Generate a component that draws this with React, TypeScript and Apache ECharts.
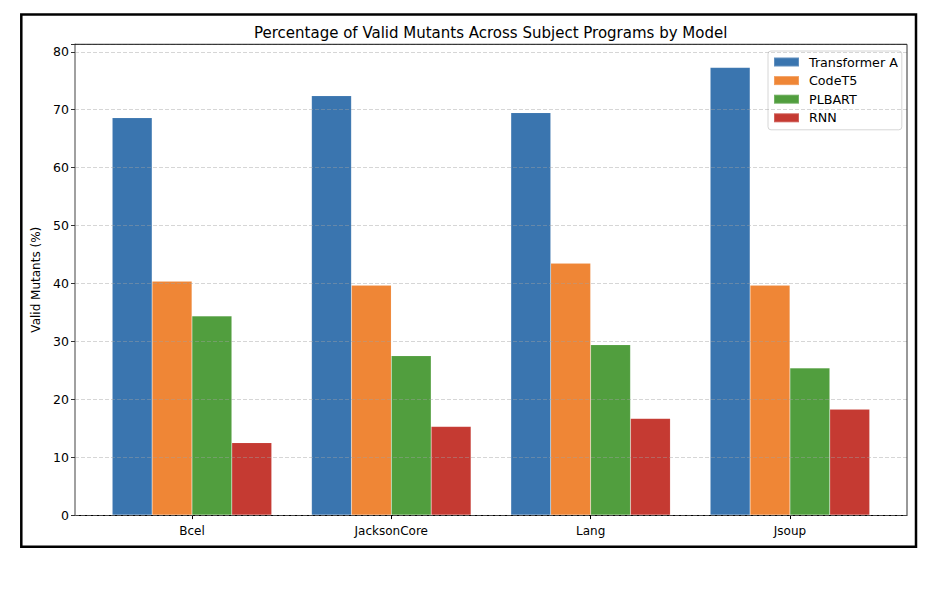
import React, { useEffect, useRef } from "react";
import * as echarts from "echarts";

const categories = ["Bcel", "JacksonCore", "Lang", "Jsoup"];
const seriesNames = ["Transformer A", "CodeT5", "PLBART", "RNN"];
const transformerA = [68.6, 72.4, 69.5, 77.3];
const codeT5 = [40.4, 39.7, 43.5, 39.7];
const plbart = [34.4, 27.5, 29.4, 25.4];
const rnn = [12.5, 15.3, 16.7, 18.3];
const colors = ["#3a75af", "#ef8636", "#519e3e", "#c53a32"];
const yTicks = [0, 10, 20, 30, 40, 50, 60, 70, 80];

const FONT = "DejaVu Sans";

export default function App() {
  const ref = useRef<HTMLDivElement>(null);
  useEffect(() => {
    if (!ref.current) return;
    const chart = echarts.init(ref.current, undefined, { renderer: "svg" });
    const values = [transformerA, codeT5, plbart, rnn];
    const yMax = 81.3;
    const frame = { left: 67, top: 36.3, width: 832, height: 470.8 };
    const catGrid = { left: 84.3, top: 36.3, width: 797.3, height: 470.8 };
    chart.setOption({
      animation: false,
      backgroundColor: "#ffffff",
      title: {
        text: "Percentage of Valid Mutants Across Subject Programs by Model",
        left: 241,
        top: 12,
        textStyle: { fontFamily: FONT, fontSize: 15, fontWeight: "normal", color: "#000" },
      },
      legend: {
        orient: "vertical",
        left: 760,
        top: 43,
        data: seriesNames,
        itemWidth: 25,
        itemHeight: 9,
        itemGap: 4.6,
        padding: [4, 4, 5, 5],
        backgroundColor: "rgba(255,255,255,0.8)",
        borderColor: "#d6d6d6",
        borderWidth: 1,
        borderRadius: 3,
        icon: "rect",
        textStyle: { fontFamily: FONT, fontSize: 12.7, color: "#000", padding: [0, 0, 0, 5], lineHeight: 14 },
      },
      grid: [
        { ...frame, containLabel: false },
        { ...catGrid, containLabel: false },
      ],
      xAxis: [
        {
          type: "value",
          gridIndex: 0,
          min: 0,
          max: 1,
          axisLine: { show: true, onZero: false, lineStyle: { color: "#000", width: 1 } },
          axisTick: { show: false },
          axisLabel: { show: false },
          splitLine: { show: false },
        },
        {
          type: "category",
          gridIndex: 1,
          data: categories,
          axisLine: { show: false },
          axisTick: { show: true, alignWithLabel: true, length: 4, lineStyle: { color: "#000" } },
          axisLabel: { fontFamily: FONT, fontSize: 12, color: "#000", margin: 10 },
          splitLine: { show: false },
        },
      ],
      yAxis: [
        {
          type: "value",
          gridIndex: 0,
          min: 0,
          max: yMax,
          interval: 10,
          z: 5,
          name: "Valid Mutants (%)",
          nameLocation: "middle",
          nameGap: 30,
          nameTextStyle: { fontFamily: FONT, fontSize: 12, color: "#000" },
          axisLine: { show: true, lineStyle: { color: "#808080", width: 1.5 } },
          axisTick: { show: true, length: 4, lineStyle: { color: "#333" } },
          axisLabel: {
            fontFamily: FONT,
            fontSize: 12.5,
            color: "#000",
            margin: 6,
            formatter: (v: number) => (yTicks.includes(v) ? String(v) : ""),
          },
          splitLine: { show: true, lineStyle: { color: "rgba(160,160,160,0.55)", type: [4, 2], width: 0.8 } },
        },
        {
          type: "value",
          gridIndex: 1,
          min: 0,
          max: yMax,
          show: false,
          splitLine: { show: false },
        },
      ],
      graphic: [
        {
          type: "line",
          shape: { x1: frame.left, y1: frame.top, x2: frame.left + frame.width, y2: frame.top },
          style: { stroke: "#111", lineWidth: 1 },
          z: 10,
        },
        {
          type: "line",
          shape: {
            x1: frame.left + frame.width,
            y1: frame.top,
            x2: frame.left + frame.width,
            y2: frame.top + frame.height,
          },
          style: { stroke: "#333", lineWidth: 1 },
          z: 10,
        },
        {
          type: "rect",
          shape: { x: 13.3, y: 6.5, width: 894.7, height: 532.2 },
          style: { fill: "none", stroke: "#000", lineWidth: 2.5 },
          z: 10,
        },
      ],
      series: seriesNames.map((name, i) => ({
        name,
        type: "bar",
        xAxisIndex: 1,
        yAxisIndex: 1,
        data: values[i],
        barWidth: "20%",
        barGap: "0%",
        itemStyle: { color: colors[i], borderColor: "rgba(255,255,255,0.2)", borderWidth: 0.5 },
        emphasis: { disabled: true },
      })),
    });
    return () => chart.dispose();
  }, []);
  return <div ref={ref} style={{ width: 916, height: 594 }} />;
}
